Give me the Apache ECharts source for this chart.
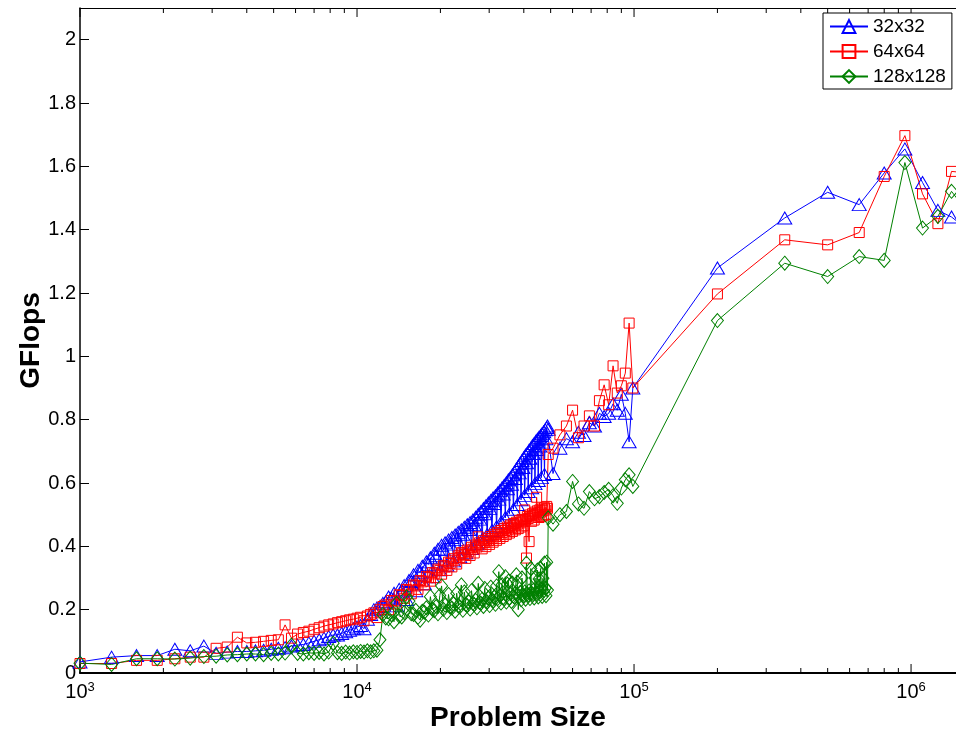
<!DOCTYPE html>
<html><head><meta charset="utf-8">
<script src="https://cdn.jsdelivr.net/npm/echarts@6/dist/echarts.min.js"></script>
<style>html,body{margin:0;padding:0;background:#fff}#c{width:956px;height:733px}</style>
</head><body><div id="c"></div>
<script>
// Problem sizes (x values)
const problemSizes = [
1000,1300,1600,1900,2200,2500,2800,3100,3400,3700,
4000,4300,4600,4900,5200,5500,5800,6100,6400,6700,
7000,7300,7600,7900,8200,8500,8800,9100,9400,9700,
10000,10300,10600,10900,11200,11500,11800,12100,12400,12700,
13000,13300,13600,13900,14200,14500,14800,15100,15400,15700,
16000,16300,16600,16900,17200,17500,17800,18100,18400,18700,
19000,19300,19600,19900,20200,20500,20800,21100,21400,21700,
22000,22300,22600,22900,23200,23500,23800,24100,24400,24700,
25000,25300,25600,25900,26200,26500,26800,27100,27400,27700,
28000,28300,28600,28900,29200,29500,29800,30100,30400,30700,
31000,31300,31600,31900,32200,32500,32800,33100,33400,33700,
34000,34300,34600,34900,35200,35500,35800,36100,36400,36700,
37000,37300,37600,37900,38200,38500,38800,39100,39400,39700,
40000,40300,40600,40900,41200,41500,41800,42100,42400,42700,
43000,43300,43600,43900,44200,44500,44800,45100,45400,45700,
46000,46300,46600,46900,47200,47500,47800,48100,48400,48700,
49000,51000,54000,57000,60000,63000,66000,69000,72000,75000,
78000,81000,84000,87000,90000,93000,96000,99000,
200000,350000,500000,650000,800000,950000,1100000,1250000,1400000,1550000
];

// GFlops, 32x32 blocks
const gflops32 = [
0.035,0.05,0.055,0.055,0.075,0.07,0.085,0.062,0.066,0.068,
0.068,0.07,0.072,0.075,0.078,0.08,0.085,0.088,0.09,0.095,
0.1,0.105,0.11,0.115,0.12,0.12,0.125,0.13,0.135,0.14,
0.145,0.15,0.14,0.17,0.185,0.2,0.205,0.21,0.22,0.225,
0.240,0.236,0.252,0.212,0.264,0.259,0.276,0.232,0.292,0.289,
0.310,0.260,0.324,0.318,0.337,0.282,0.351,0.343,0.364,0.304,
0.378,0.370,0.391,0.326,0.403,0.391,0.411,0.340,0.420,0.407,
0.428,0.354,0.436,0.422,0.444,0.367,0.452,0.438,0.460,0.380,
0.468,0.453,0.475,0.393,0.483,0.468,0.492,0.408,0.501,0.486,
0.510,0.422,0.519,0.503,0.528,0.437,0.537,0.519,0.545,0.450,
0.553,0.535,0.560,0.462,0.568,0.549,0.576,0.476,0.585,0.565,
0.593,0.490,0.601,0.582,0.610,0.503,0.617,0.596,0.626,0.517,
0.635,0.614,0.644,0.532,0.653,0.632,0.662,0.547,0.671,0.649,
0.680,0.561,0.688,0.664,0.695,0.573,0.703,0.678,0.710,0.585,
0.718,0.693,0.725,0.598,0.732,0.706,0.738,0.608,0.744,0.717,
0.750,0.617,0.756,0.729,0.762,0.627,0.768,0.740,0.775,0.780,
0.77,0.63,0.71,0.74,0.73,0.76,0.75,0.79,0.78,0.82,
0.81,0.82,0.85,0.83,0.88,0.82,0.73,0.9,
1.279,1.437,1.518,1.479,1.579,1.655,1.549,1.461,1.44,1.41
];

// GFlops, 64x64 blocks
const gflops64 = [
0.03,0.03,0.04,0.04,0.045,0.05,0.05,0.078,0.082,0.113,
0.095,0.097,0.1,0.103,0.105,0.152,0.11,0.123,0.128,0.132,
0.138,0.143,0.148,0.152,0.155,0.159,0.162,0.165,0.168,0.17,
0.173,0.176,0.165,0.18,0.185,0.19,0.175,0.2,0.21,0.215,
0.200,0.229,0.227,0.218,0.247,0.245,0.236,0.264,0.261,0.250,
0.278,0.275,0.264,0.292,0.288,0.278,0.305,0.301,0.290,0.317,
0.313,0.301,0.328,0.324,0.312,0.339,0.335,0.324,0.350,0.346,
0.335,0.361,0.356,0.344,0.370,0.365,0.380,0.379,0.374,0.362,
0.388,0.383,0.371,0.397,0.391,0.379,0.404,0.398,0.430,0.411,
0.405,0.392,0.418,0.412,0.399,0.424,0.418,0.406,0.431,0.425,
0.413,0.438,0.432,0.419,0.444,0.438,0.425,0.450,0.444,0.431,
0.456,0.450,0.437,0.461,0.455,0.442,0.467,0.460,0.447,0.472,
0.465,0.452,0.476,0.470,0.456,0.481,0.474,0.461,0.485,0.479,
0.465,0.515,0.483,0.363,0.494,0.488,0.415,0.499,0.492,0.479,
0.503,0.497,0.483,0.508,0.501,0.555,0.512,0.505,0.491,0.515,
0.508,0.494,0.518,0.512,0.498,0.522,0.515,0.501,0.526,0.520,
0.69,0.71,0.752,0.78,0.83,0.743,0.78,0.812,0.78,0.86,
0.91,0.847,0.97,0.884,0.907,0.947,1.105,0.9,
1.197,1.368,1.352,1.391,1.568,1.697,1.513,1.419,1.584,1.58
];

// GFlops, 128x128 blocks
const gflops128 = [
0.031,0.027,0.045,0.045,0.044,0.047,0.052,0.053,0.057,0.058,
0.06,0.06,0.058,0.062,0.06,0.063,0.088,0.062,0.06,0.064,
0.062,0.065,0.06,0.066,0.094,0.064,0.062,0.066,0.063,0.067,
0.065,0.068,0.066,0.07,0.067,0.07,0.072,0.105,0.185,0.174,
0.171,0.184,0.162,0.220,0.180,0.177,0.191,0.241,0.227,0.187,
0.185,0.198,0.176,0.167,0.195,0.192,0.206,0.183,0.241,0.201,
0.197,0.210,0.187,0.245,0.275,0.201,0.214,0.191,0.248,0.208,
0.205,0.218,0.195,0.252,0.212,0.209,0.278,0.198,0.256,0.216,
0.2125,0.225,0.202,0.260,0.220,0.216,0.229,0.206,0.283,0.223,
0.220,0.233,0.210,0.267,0.227,0.224,0.237,0.213,0.271,0.231,
0.2275,0.240,0.217,0.275,0.235,0.32,0.244,0.221,0.279,0.238,
0.235,0.304,0.224,0.281,0.29,0.237,0.250,0.226,0.284,0.243,
0.2395,0.252,0.31,0.286,0.2,0.242,0.254,0.231,0.30,0.248,
0.244,0.256,0.233,0.347,0.250,0.246,0.259,0.235,0.33,0.252,
0.2485,0.261,0.237,0.30,0.254,0.251,0.325,0.240,0.297,0.257,
0.33,0.266,0.242,0.299,0.259,0.347,0.268,0.244,0.35,0.262,
0.49,0.47,0.5,0.51,0.605,0.534,0.52,0.573,0.55,0.557,
0.57,0.58,0.56,0.536,0.584,0.61,0.626,0.589,
1.113,1.294,1.252,1.315,1.303,1.612,1.405,1.442,1.521,1.47
];

const seriesNames = ['32x32', '64x64', '128x128'];
const seriesColors = ['#0000ff', '#ff0000', '#008000'];
const xTickPositions = [
1000,2000,3000,4000,5000,6000,7000,8000,9000,
10000,20000,30000,40000,50000,60000,70000,80000,90000,
100000,200000,300000,400000,500000,600000,700000,800000,900000,
1000000
];
const yMin = 0, yMax = 2.1, yStep = 0.2;
const xMin = 1000, xMax = 1453000;

function pairs(xs, ys) { return xs.map((x, i) => [x, ys[i]]); }

const FONT = 'Liberation Sans, Arial, Helvetica, sans-serif';
const chart = echarts.init(document.getElementById('c'), null, {renderer: 'canvas'});

function lineSeries(name, ys, color, symbol, size) {
  return {
    name: name, type: 'line', data: pairs(problemSizes, ys),
    symbol: symbol, symbolSize: size, showSymbol: true, clip: true,
    lineStyle: {color: color, width: 1},
    itemStyle: {color: 'rgba(255,255,255,0)', borderColor: color, borderWidth: 1},
    emphasis: {disabled: true}, silent: true, z: 3
  };
}

chart.setOption({
  animation: false,
  textStyle: {fontFamily: FONT},
  grid: {left: 80, right: 0, top: 8, bottom: 60, containLabel: false, outerBoundsMode: 'none'},
  legend: {
    data: seriesNames, orient: 'vertical', left: 823, top: 13,
    padding: [4, 6, 3, 6], itemGap: 6, itemWidth: 38, itemHeight: 16,
    backgroundColor: '#fff', borderColor: '#000', borderWidth: 1, borderRadius: 0,
    textStyle: {fontSize: 19, color: '#000', fontFamily: FONT, lineHeight: 19},
    selectedMode: false
  },
  xAxis: [{
    type: 'log', logBase: 10, min: xMin, max: xMax, position: 'bottom',
    axisLine: {show: true, onZero: false, lineStyle: {color: '#000', width: 2}},
    axisTick: {show: false}, splitLine: {show: false}, minorTick: {show: false},
    axisLabel: {
      margin: 8, color: '#000',
      formatter: function (v) {
        const e = Math.log10(v);
        if (Math.abs(e - Math.round(e)) > 1e-6) return '';
        return '{b|10}{s|' + Math.round(e) + '}';
      },
      rich: {
        b: {fontSize: 20, color: '#000', fontFamily: FONT, lineHeight: 22},
        s: {fontSize: 13, color: '#000', fontFamily: FONT, verticalAlign: 'top', lineHeight: 13}
      }
    },
    name: 'Problem Size', nameLocation: 'middle', nameGap: 31, nameMoveOverlap: false,
    nameTextStyle: {fontSize: 28, fontWeight: 'bold', color: '#000', fontFamily: FONT, verticalAlign: 'top'}
  }, {
    type: 'log', logBase: 10, min: xMin, max: xMax, position: 'top',
    axisLine: {show: true, onZero: false, lineStyle: {color: '#000', width: 1}},
    axisTick: {show: false}, axisLabel: {show: false}, splitLine: {show: false}
  }],
  yAxis: {
    type: 'value', min: yMin, max: yMax, interval: yStep,
    axisLine: {show: true, onZero: false, lineStyle: {color: '#000', width: 1.5}},
    axisTick: {show: true, inside: true, length: 9, lineStyle: {color: '#000', width: 1}},
    splitLine: {show: false},
    axisLabel: {
      margin: 4, fontSize: 20, color: '#000', fontFamily: FONT,
      formatter: function (v) { return v > 2.05 ? '' : String(+v.toFixed(1)); }
    },
    name: 'GFlops', nameLocation: 'middle', nameGap: 35, nameRotate: 90, nameMoveOverlap: false,
    nameTextStyle: {fontSize: 28, fontWeight: 'bold', color: '#000', fontFamily: FONT}
  },
  series: [
    lineSeries(seriesNames[0], gflops32, seriesColors[0], 'triangle', [14, 12]),
    lineSeries(seriesNames[1], gflops64, seriesColors[1], 'rect', [10, 10]),
    lineSeries(seriesNames[2], gflops128, seriesColors[2], 'diamond', [12, 14]),
    {
      type: 'custom', silent: true, z: 1, clip: false,
      data: xTickPositions.map(v => [v, 0]),
      encode: {x: 0, y: 1},
      renderItem: function (params, api) {
        const v = api.value(0);
        const e = Math.log10(v);
        const len = Math.abs(e - Math.round(e)) < 1e-6 ? 9 : 5;
        const b = api.coord([v, yMin]);
        const t = api.coord([v, yMax]);
        return {type: 'group', children: [
          {type: 'line', shape: {x1: b[0], y1: b[1], x2: b[0], y2: b[1] - len}, style: {stroke: '#000', lineWidth: 1}},
          {type: 'line', shape: {x1: t[0], y1: t[1], x2: t[0], y2: t[1] + len}, style: {stroke: '#000', lineWidth: 1}}
        ]};
      }
    }
  ]
});
</script></body></html>
